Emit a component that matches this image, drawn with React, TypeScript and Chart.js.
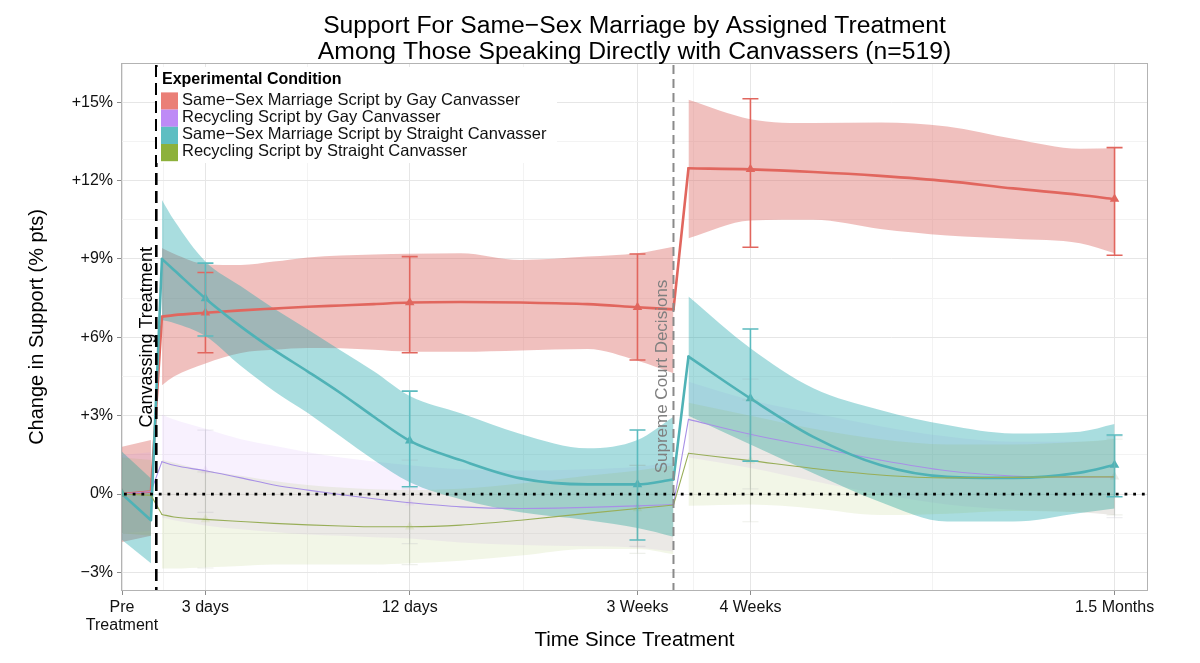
import React, { useEffect, useRef } from 'react';
import { Chart, registerables } from 'chart.js';

Chart.register(...registerables);

const FONT = '"Liberation Sans", Arial, Helvetica, sans-serif';

// ---------- text ----------
const titleLines = [
  'Support For Same\u2212Sex Marriage by Assigned Treatment',
  'Among Those Speaking Directly with Canvassers (n=519)',
];
const xAxisTitle = 'Time Since Treatment';
const yAxisTitle = 'Change in Support (% pts)';
const legendTitle = 'Experimental Condition';
const seriesNames = [
  'Same\u2212Sex Marriage Script by Gay Canvasser',
  'Recycling Script by Gay Canvasser',
  'Same\u2212Sex Marriage Script by Straight Canvasser',
  'Recycling Script by Straight Canvasser',
];

// ---------- axes ----------
const xTickValues = [0, 8.13, 28.04, 50.24, 61.25, 96.74];
const xTickLabels: (string | string[])[] = [['Pre', 'Treatment'], '3 days', '12 days', '3 Weeks', '4 Weeks', '1.5 Months'];
const yTickValues = [-3, 0, 3, 6, 9, 12, 15];
const yTickLabels = ['\u22123%', '0%', '+3%', '+6%', '+9%', '+12%', '+15%'];
const xMin = -0.1;
const xMax = 100;
const yMin = -3.71;
const yMax = 16.5;

// ---------- events ----------
const eventX = [3.34, 53.75];
const eventLabels = ['Canvassing Treatment', 'Supreme Court Decisions'];
const eventLabelX = [2.43, 52.68];
const eventLabelY = [6, 4.5];

// ---------- fitted curves (x positions shared) ----------
const curveX = [0, 2.82, 3.89, 5.06, 8.13, 11.59, 14.8, 18.11, 21.32, 24.54, 28.04, 33.01, 38.85, 45.38, 50.24, 53.75, 55.21, 61.25, 67.38, 73.9, 80.43, 86.85, 93.38, 96.74];

const gayMarriageFit = [0, 0.1, 6.79, 6.85, 6.94, 7.03, 7.1, 7.17, 7.22, 7.27, 7.33, 7.35, 7.33, 7.27, 7.15, 7.07, 12.47, 12.43, 12.33, 12.18, 11.98, 11.7, 11.45, 11.29];
const gayMarriageHi = [1.81, 2.07, 9.42, 9.2, 8.8, 8.77, 8.9, 9.06, 9.13, 9.17, 9.2, 9.22, 8.96, 9.09, 9.22, 9.47, 15.09, 14.35, 14.2, 14.22, 14.07, 13.6, 13.22, 13.24];
const gayMarriageLo = [-1.83, -1.6, 4.17, 4.5, 5.0, 5.4, 5.52, 5.59, 5.58, 5.52, 5.45, 5.45, 5.5, 5.55, 5.1, 4.62, 9.79, 10.47, 10.5, 10.15, 9.9, 9.77, 9.6, 9.22];

const gayRecyclingFit = [0, 0.1, 1.24, 1.1, 0.89, 0.62, 0.35, 0.15, -0.02, -0.18, -0.33, -0.49, -0.55, -0.51, -0.45, -0.4, 2.86, 2.29, 1.81, 1.3, 0.89, 0.69, 0.65, 0.66];
const gayRecyclingHi = [1.5, 1.6, 3.05, 2.85, 2.5, 2.1, 1.85, 1.6, 1.4, 1.25, 1.1, 0.95, 0.9, 0.95, 1.05, 1.2, 4.3, 3.6, 3.1, 2.6, 2.2, 2.0, 2.0, 2.1];
const gayRecyclingLo = [-1.5, -1.4, -0.9, -1.0, -1.2, -1.35, -1.45, -1.55, -1.6, -1.65, -1.7, -1.85, -1.95, -2.0, -2.05, -2.2, 1.4, 1.0, 0.5, 0.0, -0.4, -0.6, -0.7, -0.8];

const straightMarriageFit = [0, -1.0, 9.0, 8.58, 7.49, 6.41, 5.52, 4.69, 3.86, 2.96, 2.04, 1.3, 0.6, 0.37, 0.37, 0.56, 5.26, 3.66, 2.19, 1.11, 0.66, 0.62, 0.82, 1.11];
const straightMarriageHi = [1.62, 0.6, 11.26, 10.49, 8.9, 7.95, 7.1, 6.3, 5.5, 4.7, 3.75, 3.09, 2.3, 1.75, 2.07, 2.96, 7.56, 5.58, 4.05, 3.22, 2.64, 2.32, 2.39, 2.68];
const straightMarriageLo = [-1.76, -2.65, 6.66, 6.55, 6.05, 4.9, 3.95, 3.1, 2.2, 1.3, 0.45, -0.2, -0.7, -1.0, -1.3, -1.63, 3.0, 1.9, 0.8, -0.3, -1.05, -1.05, -0.72, -0.55];

const straightRecyclingFit = [0, -0.05, -0.78, -0.88, -0.97, -1.05, -1.12, -1.18, -1.22, -1.25, -1.25, -1.19, -1.0, -0.74, -0.55, -0.42, 1.56, 1.28, 0.98, 0.73, 0.62, 0.64, 0.66, 0.66];
const straightRecyclingHi = [1.4, 1.3, 1.3, 1.2, 0.9, 0.7, 0.5, 0.35, 0.25, 0.18, 0.15, 0.2, 0.4, 0.7, 0.9, 1.1, 3.5, 3.0, 2.5, 2.1, 1.9, 1.9, 2.0, 2.1];
const straightRecyclingLo = [-1.5, -1.6, -2.85, -2.85, -2.8, -2.75, -2.7, -2.7, -2.7, -2.7, -2.65, -2.55, -2.35, -2.1, -2.1, -2.3, -0.45, -0.4, -0.55, -0.8, -0.75, -0.65, -0.7, -0.8];

// ---------- wave estimates with 95% intervals ----------
const waveX = [0, 8.13, 28.04, 50.24, 61.25, 96.74];

const gayMarriageEst = [0, 6.94, 7.33, 7.15, 12.43, 11.29];
const gayMarriageEstLo = [0, 5.41, 5.41, 5.13, 9.45, 9.14];
const gayMarriageEstHi = [0, 8.48, 9.09, 9.19, 15.13, 13.26];

const gayRecyclingEst = [0, 0.89, -0.33, -0.45, 2.29, 0.66];
const gayRecyclingEstLo = [0, -0.7, -1.9, -2.0, 0.2, -0.9];
const gayRecyclingEstHi = [0, 2.45, 1.3, 1.1, 4.4, 2.2];

const straightMarriageEst = [0, 7.49, 2.04, 0.37, 3.66, 1.11];
const straightMarriageEstLo = [0, 6.05, 0.28, -1.76, 1.26, -0.1];
const straightMarriageEstHi = [0, 8.84, 3.94, 2.45, 6.32, 2.26];

const straightRecyclingEst = [0, -0.97, -1.25, -0.55, 1.28, 0.66];
const straightRecyclingEstLo = [0, -2.83, -2.7, -2.27, -1.06, -0.8];
const straightRecyclingEstHi = [0, 0.85, 0.2, 1.1, 3.6, 2.1];

const seriesData = [
  { fit: gayMarriageFit, hi: gayMarriageHi, lo: gayMarriageLo, est: gayMarriageEst, estLo: gayMarriageEstLo, estHi: gayMarriageEstHi },
  { fit: gayRecyclingFit, hi: gayRecyclingHi, lo: gayRecyclingLo, est: gayRecyclingEst, estLo: gayRecyclingEstLo, estHi: gayRecyclingEstHi },
  { fit: straightMarriageFit, hi: straightMarriageHi, lo: straightMarriageLo, est: straightMarriageEst, estLo: straightMarriageEstLo, estHi: straightMarriageEstHi },
  { fit: straightRecyclingFit, hi: straightRecyclingHi, lo: straightRecyclingLo, est: straightRecyclingEst, estLo: straightRecyclingEstLo, estHi: straightRecyclingEstHi },
];

// ---------- styles ----------
const seriesStyles = [
  { line: '#E1665E', lineWidth: 2.6, band: 'rgba(222,115,111,0.45)', point: '#E1665E', bar: '#E1665E', barWidth: 1.6, key: '#EA7F77' },
  { line: '#A890E6', lineWidth: 1.1, band: 'rgba(190,130,245,0.11)', point: 'rgba(199,124,255,0.10)', bar: 'rgba(150,150,170,0.16)', barWidth: 1.2, key: '#BE8AF6' },
  { line: '#4FB2B6', lineWidth: 2.6, band: 'rgba(30,165,172,0.38)', point: '#4FB2B6', bar: '#5BBBBF', barWidth: 1.6, key: '#5EBEC2' },
  { line: '#98AE58', lineWidth: 1.1, band: 'rgba(130,170,20,0.10)', point: 'rgba(124,174,0,0.10)', bar: 'rgba(150,160,130,0.16)', barWidth: 1.2, key: '#8DB13B' },
];

const ribbonRanges: [number, number, boolean][] = [[0, 1, false], [2, 15, true], [16, 23, true]];
const lineRanges: [number, number, boolean][] = [[0, 2, false], [2, 15, true], [15, 16, false], [16, 23, true]];

function pts(vals: number[], from: number, to: number) {
  const out: { x: number; y: number }[] = [];
  for (let i = from; i <= to; i++) out.push({ x: curveX[i], y: vals[i] });
  return out;
}

function midpoints(v: number[]) {
  const out: number[] = [];
  for (let i = 0; i < v.length - 1; i++) out.push((v[i] + v[i + 1]) / 2);
  return out;
}

function findIndex(arr: number[], v: number) {
  for (let i = 0; i < arr.length; i++) if (Math.abs(arr[i] - v) < 1e-6) return i;
  return -1;
}

function buildDatasets() {
  const ds: any[] = [];
  seriesData.forEach((s, k) => {
    const st = seriesStyles[k];
    ribbonRanges.forEach(([a, b, smooth]) => {
      ds.push({
        data: pts(s.hi, a, b), fill: '+1', backgroundColor: st.band,
        borderColor: 'rgba(0,0,0,0)', borderWidth: 0, pointRadius: 0, tension: 0,
        cubicInterpolationMode: smooth ? 'monotone' : 'default', order: 40 - k,
      });
      ds.push({
        data: pts(s.lo, a, b), fill: false, backgroundColor: 'rgba(0,0,0,0)',
        borderColor: 'rgba(0,0,0,0)', borderWidth: 0, pointRadius: 0, tension: 0,
        cubicInterpolationMode: smooth ? 'monotone' : 'default', order: 40 - k,
      });
    });
  });
  seriesData.forEach((s, k) => {
    const st = seriesStyles[k];
    lineRanges.forEach(([a, b, smooth]) => {
      ds.push({
        data: pts(s.fit, a, b), fill: false, borderColor: st.line, borderWidth: st.lineWidth,
        borderCapStyle: 'round', borderJoinStyle: 'round',
        pointRadius: 0, tension: 0, cubicInterpolationMode: smooth ? 'monotone' : 'default', order: 20 - k,
      });
    });
  });
  seriesData.forEach((s, k) => {
    const st = seriesStyles[k];
    ds.push({
      data: waveX.map((x, i) => ({ x, y: s.est[i] })), showLine: false, fill: false,
      pointStyle: 'triangle', pointRadius: 5.5, pointBackgroundColor: st.point,
      pointBorderColor: st.point, pointBorderWidth: 0, order: 10 - k,
    });
  });
  return ds;
}

const decorPlugin = {
  id: 'decor',
  beforeDraw(chart: any) {
    const { ctx, width, height } = chart;
    ctx.save();
    ctx.fillStyle = '#ffffff';
    ctx.fillRect(0, 0, width, height);
    ctx.restore();
  },
  afterDatasetsDraw(chart: any) {
    const { ctx, chartArea: a } = chart;
    const xs = chart.scales.x;
    const ys = chart.scales.y;
    ctx.save();
    ctx.beginPath();
    ctx.rect(a.left, a.top, a.right - a.left, a.bottom - a.top);
    ctx.clip();

    // error bars
    seriesData.forEach((s, k) => {
      const st = seriesStyles[k];
      ctx.strokeStyle = st.bar;
      ctx.lineWidth = st.barWidth;
      ctx.setLineDash([]);
      waveX.forEach((wx, i) => {
        if (s.estHi[i] === s.estLo[i]) return;
        const px = xs.getPixelForValue(wx);
        const pLo = ys.getPixelForValue(s.estLo[i]);
        const pHi = ys.getPixelForValue(s.estHi[i]);
        ctx.beginPath();
        ctx.moveTo(px, pLo); ctx.lineTo(px, pHi);
        ctx.moveTo(px - 8, pLo); ctx.lineTo(px + 8, pLo);
        ctx.moveTo(px - 8, pHi); ctx.lineTo(px + 8, pHi);
        ctx.stroke();
      });
    });

    // zero reference
    const y0 = ys.getPixelForValue(0);
    ctx.setLineDash([2.8, 5.9]);
    ctx.lineWidth = 2.8;
    ctx.strokeStyle = '#000';
    ctx.beginPath();
    ctx.moveTo(a.left + 3, y0);
    ctx.lineTo(a.right, y0);
    ctx.stroke();

    // event lines
    const cx = xs.getPixelForValue(eventX[0]);
    ctx.setLineDash([12, 6]);
    ctx.lineWidth = 2.6;
    ctx.strokeStyle = '#000';
    ctx.beginPath();
    ctx.moveTo(cx, a.top + 2);
    ctx.lineTo(cx, a.bottom);
    ctx.stroke();

    const sx = xs.getPixelForValue(eventX[1]);
    ctx.setLineDash([9, 5]);
    ctx.lineWidth = 2;
    ctx.strokeStyle = '#8A8A8A';
    ctx.beginPath();
    ctx.moveTo(sx, a.top + 2);
    ctx.lineTo(sx, a.bottom);
    ctx.stroke();
    ctx.setLineDash([]);

    const eventColors = ['#000000', '#7F7F7F'];
    const eventSizes = [18, 17];
    eventLabels.forEach((t, i) => {
      ctx.save();
      ctx.translate(xs.getPixelForValue(eventLabelX[i]), ys.getPixelForValue(eventLabelY[i]));
      ctx.rotate(-Math.PI / 2);
      ctx.fillStyle = eventColors[i];
      ctx.font = `${eventSizes[i]}px ${FONT}`;
      ctx.textAlign = 'center';
      ctx.textBaseline = 'middle';
      ctx.fillText(t, 0, 0);
      ctx.restore();
    });
    ctx.restore();

    // legend
    const lx = a.left + 36;
    const ly = a.top + 4;
    ctx.save();
    ctx.fillStyle = '#ffffff';
    ctx.fillRect(lx, ly, 400, 96);
    ctx.fillStyle = '#000';
    ctx.font = `bold 16px ${FONT}`;
    ctx.textAlign = 'left';
    ctx.textBaseline = 'middle';
    ctx.fillText(legendTitle, lx + 5, ly + 13);
    seriesNames.forEach((name, i) => {
      const cy = ly + 34 + i * 17.2;
      ctx.fillStyle = seriesStyles[i].key;
      ctx.fillRect(lx + 4, cy - 8.6, 17, 17.2);
      ctx.fillStyle = '#111';
      ctx.font = `16.5px ${FONT}`;
      ctx.fillText(name, lx + 25, cy - 1);
    });
    ctx.restore();

    // panel border
    ctx.save();
    ctx.strokeStyle = '#B3B3B3';
    ctx.lineWidth = 1;
    ctx.strokeRect(a.left + 0.5, a.top + 0.5, a.right - a.left - 1, a.bottom - a.top - 1);
    ctx.restore();

    // titles
    const midX = (a.left + a.right) / 2;
    ctx.save();
    ctx.fillStyle = '#000';
    ctx.textAlign = 'center';
    ctx.textBaseline = 'alphabetic';
    ctx.font = `24.7px ${FONT}`;
    ctx.fillText(titleLines[0], midX, a.top - 30);
    ctx.fillText(titleLines[1], midX, a.top - 4);
    ctx.font = `20.5px ${FONT}`;
    ctx.fillText(xAxisTitle, midX, a.bottom + 55);
    ctx.translate(37, (a.top + a.bottom) / 2);
    ctx.rotate(-Math.PI / 2);
    ctx.textBaseline = 'middle';
    ctx.font = `20px ${FONT}`;
    ctx.fillText(yAxisTitle, 0, 0);
    ctx.restore();
  },
};

export default function App() {
  const ref = useRef<HTMLCanvasElement | null>(null);
  useEffect(() => {
    if (!ref.current) return;
    const xGrid = [
      ...xTickValues.map((v) => ({ value: v, isMajor: true })),
      ...midpoints(xTickValues).map((v) => ({ value: v, isMajor: false })),
    ].sort((p, q) => p.value - q.value);
    const yGrid = [
      ...yTickValues.map((v) => ({ value: v, isMajor: true })),
      ...midpoints(yTickValues).map((v) => ({ value: v, isMajor: false })),
    ].sort((p, q) => p.value - q.value);

    const gridColor = (c: any) => (c.tick && c.tick.isMajor ? '#E6E6E6' : '#F3F3F3');
    const tickColor = (c: any) => (c.tick && c.tick.isMajor ? '#8C8C8C' : 'rgba(0,0,0,0)');

    const chart = new Chart(ref.current, {
      type: 'line',
      data: { datasets: buildDatasets() },
      plugins: [decorPlugin],
      options: {
        animation: false,
        responsive: true,
        maintainAspectRatio: false,
        events: [],
        layout: { padding: { left: 0, top: 63, right: 52, bottom: 0 } },
        plugins: {
          legend: { display: false },
          tooltip: { enabled: false },
          title: { display: false },
        },
        scales: {
          x: {
            type: 'linear',
            min: xMin,
            max: xMax,
            afterBuildTicks: (scale: any) => { scale.ticks = xGrid.map((g) => ({ ...g })); },
            afterFit: (scale: any) => { scale.height = 72; },
            border: { display: false },
            grid: { color: gridColor, tickColor, tickLength: 4, lineWidth: 1, drawTicks: true },
            ticks: {
              autoSkip: false, maxRotation: 0, minRotation: 0, padding: 3, color: '#111',
              font: { family: FONT, size: 16, lineHeight: 1.15 },
              callback: (v: any) => {
                const i = findIndex(xTickValues, Number(v));
                return i >= 0 ? xTickLabels[i] : '';
              },
            },
          },
          y: {
            type: 'linear',
            min: yMin,
            max: yMax,
            afterBuildTicks: (scale: any) => { scale.ticks = yGrid.map((g) => ({ ...g })); },
            afterFit: (scale: any) => { scale.width = 121; },
            border: { display: false },
            grid: { color: gridColor, tickColor, tickLength: 4, lineWidth: 1, drawTicks: true },
            ticks: {
              autoSkip: false, padding: 4, color: '#111',
              font: { family: FONT, size: 16 },
              callback: (v: any) => {
                const i = findIndex(yTickValues, Number(v));
                return i >= 0 ? yTickLabels[i] : '';
              },
            },
          },
        },
      } as any,
    });
    return () => chart.destroy();
  }, []);

  return (
    <div style={{ position: 'fixed', left: 0, top: 0, width: 1200, height: 663, background: '#fff' }}>
      <canvas ref={ref} />
    </div>
  );
}
